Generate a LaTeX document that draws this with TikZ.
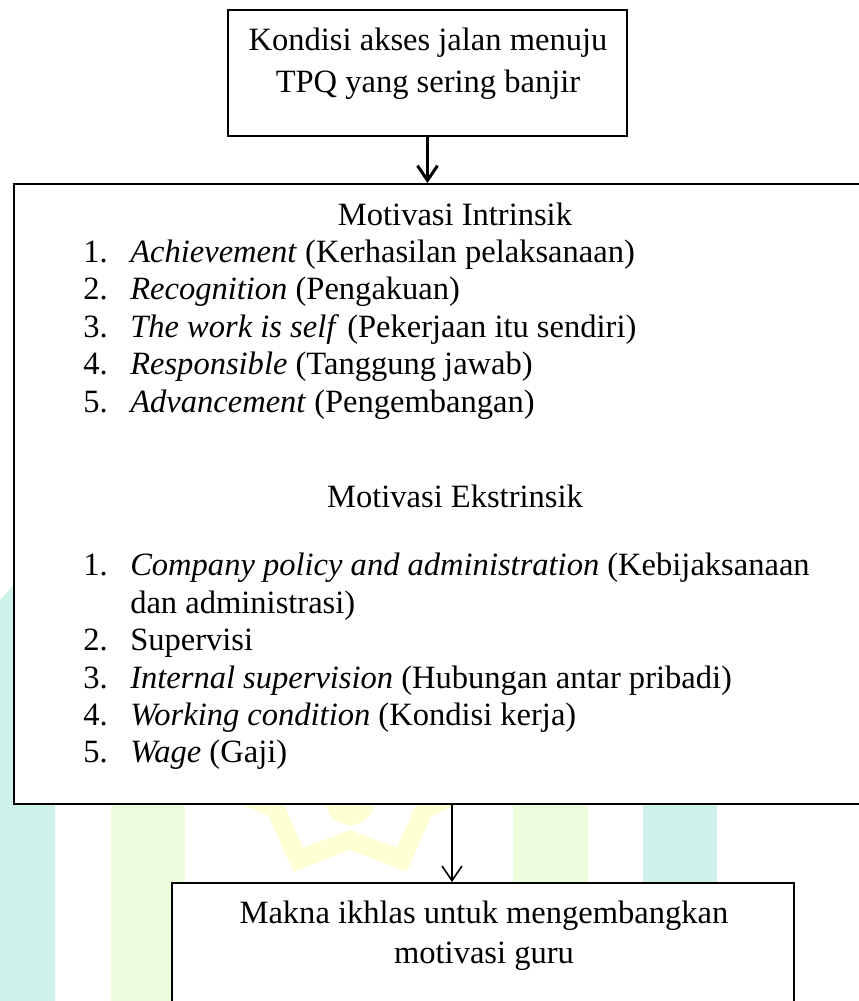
\documentclass[tikz,border=0pt]{standalone}
\usepackage{fontspec}
\setmainfont{Liberation Serif}
\usetikzlibrary{arrows.meta, fit}
\definecolor{wmcyan}{HTML}{CEF2EA}
\definecolor{wmgreen}{HTML}{EEFCDE}
\definecolor{wmyellow}{HTML}{FFFFD4}

\begin{document}
\begin{tikzpicture}[x=0.75pt, y=-0.75pt,
  kotak/.style={draw, line width=1.5pt, fill=white, inner sep=0pt},
  teks/.style={inner sep=0pt, font=\fontsize{24.4}{28}\selectfont},
  butir/.style={teks, anchor=base west},
  judul/.style={teks, anchor=base},
  panah/.style={-{Straight Barb[length=11pt, width=15pt]}}]
  \useasboundingbox (0,0) rectangle (859,1001);
  \clip (0,0) rectangle (859,1001);
  % latar (watermark)
  \fill[wmcyan] (0,600) -- (55,540) -- (55,1001) -- (0,1001) -- cycle;
  \fill[wmgreen] (111,700) rectangle (185,1001);
  \fill[wmgreen] (513,700) rectangle (588,1001);
  \fill[wmcyan] (643,700) rectangle (717,1001);
  \draw[wmyellow, line width=14pt, shift={(350,735)}] (22.5:135)
    \foreach \k in {1,...,15} { -- ({22.5*\k+22.5}:{ifthenelse(isodd(\k),105,135)}) } -- cycle;
  \fill[wmyellow] (350,801) circle (24);
  % kotak
  \node[kotak, fit={(228,10) (627,136)}] (kondisi) {};
  \node[kotak, fit={(14,184) (890,804)}] (motivasi) {};
  \node[kotak, fit={(172,883) (794,1040)}] (makna) {};
  % kotak atas
  \node[judul] (k1) at (428,50) {Kondisi akses jalan menuju};
  \node[judul] (k2) at (428,92) {TPQ yang sering banjir};
  % motivasi intrinsik
  \node[judul] (intr) at (455,225) {Motivasi Intrinsik};
  \foreach \y/\t [count=\i] in {
    262/{\textit{Achievement} (Kerhasilan pelaksanaan)},
    299.5/{\textit{Recognition} (Pengakuan)},
    337/{\textit{The work is self} (Pekerjaan itu sendiri)},
    374.5/{\textit{Responsible} (Tanggung jawab)},
    412/{\textit{Advancement} (Pengembangan)}} {
    \node[butir] (inno\i) at (83,\y) {\i.};
    \node[butir] (in\i) at (130,\y) {\t};
  }
  % motivasi ekstrinsik
  \node[judul] (ekstr) at (455,507) {Motivasi Ekstrinsik};
  \foreach \y/\t [count=\i] in {
    575/{\textit{Company policy and administration} (Kebijaksanaan},
    650/{Supervisi},
    688/{\textit{Internal supervision} (Hubungan antar pribadi)},
    725/{\textit{Working condition} (Kondisi kerja)},
    762/{\textit{Wage} (Gaji)}} {
    \node[butir] (ekno\i) at (83,\y) {\i.};
    \node[butir] (ek\i) at (130,\y) {\t};
  }
  \node[butir] (ek1b) at (130,613) {dan administrasi)};
  % kotak bawah
  \node[judul] (m1) at (484,923) {Makna ikhlas untuk mengembangkan};
  \node[judul] (m2) at (484,963) {motivasi guru};
  % panah
  \draw[panah, line width=2.25pt] (kondisi.south) -- (kondisi.south |- motivasi.north);
  \draw[panah, line width=1.2pt] (motivasi.south) -- (motivasi.south |- makna.north);
\end{tikzpicture}
\end{document}
